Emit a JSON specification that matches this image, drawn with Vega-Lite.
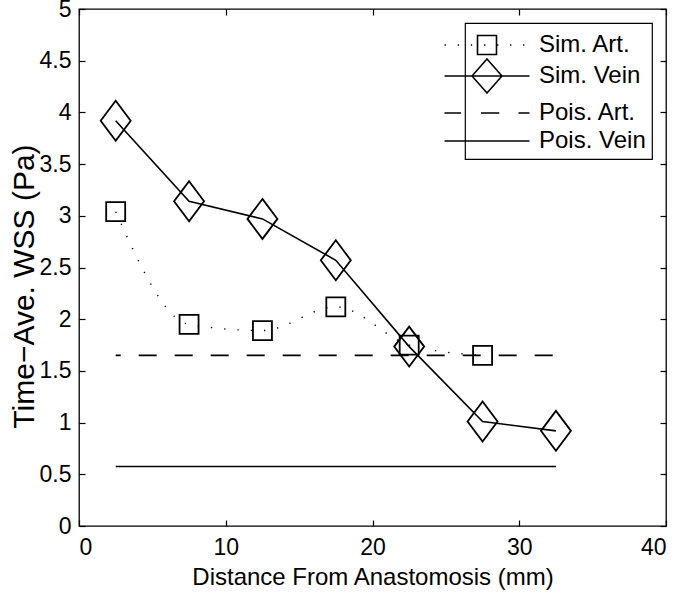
{
  "$schema": "https://vega.github.io/schema/vega-lite/v6.json",
  "width": 587,
  "height": 517,
  "autosize": {"type": "none"},
  "padding": {"left": 79, "top": 9, "right": 14, "bottom": 68},
  "background": "white",
  "config": {
    "font": "Liberation Sans",
    "view": {"stroke": "black", "strokeWidth": 1.3},
    "axis": {
      "domain": false,
      "grid": false,
      "ticks": true,
      "tickColor": "black",
      "tickSize": -6,
      "tickWidth": 1.2,
      "labelColor": "black",
      "labelFont": "Liberation Sans",
      "labelFontSize": 23,
      "titleColor": "black",
      "titleFont": "Liberation Sans",
      "titleFontSize": 24,
      "titleFontWeight": "normal"
    }
  },
  "data": {
    "values": [
      {"series": "Sim. Art.", "x": 2.5, "y": 3.04},
      {"series": "Sim. Art.", "x": 7.5, "y": 1.95},
      {"series": "Sim. Art.", "x": 12.5, "y": 1.89},
      {"series": "Sim. Art.", "x": 17.5, "y": 2.12},
      {"series": "Sim. Art.", "x": 22.5, "y": 1.75},
      {"series": "Sim. Art.", "x": 27.5, "y": 1.65},
      {"series": "Sim. Vein", "x": 2.5, "y": 3.92},
      {"series": "Sim. Vein", "x": 7.5, "y": 3.14},
      {"series": "Sim. Vein", "x": 12.5, "y": 2.97},
      {"series": "Sim. Vein", "x": 17.5, "y": 2.57},
      {"series": "Sim. Vein", "x": 22.5, "y": 1.735},
      {"series": "Sim. Vein", "x": 27.5, "y": 1.01},
      {"series": "Sim. Vein", "x": 32.5, "y": 0.92},
      {"series": "Pois. Art.", "x": 2.5, "y": 1.65},
      {"series": "Pois. Art.", "x": 32.5, "y": 1.65},
      {"series": "Pois. Vein", "x": 2.5, "y": 0.575},
      {"series": "Pois. Vein", "x": 32.5, "y": 0.575}
    ]
  },
  "encoding": {
    "x": {
      "field": "x", "type": "quantitative",
      "scale": {"domain": [0, 40], "nice": false, "zero": false},
      "axis": null
    },
    "y": {
      "field": "y", "type": "quantitative",
      "scale": {"domain": [0, 5], "nice": false, "zero": false},
      "axis": null
    }
  },
  "layer": [
    {
      "transform": [{"filter": "datum.series === 'Pois. Vein'"}],
      "mark": {"type": "line", "strokeWidth": 1.6},
      "encoding": {
        "x": {
          "field": "x", "type": "quantitative",
          "axis": {"orient": "bottom", "values": [0, 10, 20, 30, 40], "title": "Distance From Anastomosis (mm)", "labelPadding": 16, "titlePadding": 6}
        },
        "y": {
          "field": "y", "type": "quantitative",
          "axis": {"orient": "left", "values": [0, 0.5, 1, 1.5, 2, 2.5, 3, 3.5, 4, 4.5, 5], "format": "~g", "title": "Time−Ave. WSS (Pa)", "titleFontSize": 30, "titleY": 277, "labelPadding": 14, "titlePadding": 0}
        },
        "stroke": {
          "field": "series", "type": "nominal",
          "scale": {"domain": ["Sim. Art.", "Sim. Vein", "Pois. Art.", "Pois. Vein"], "range": ["black", "black", "black", "black"]},
          "legend": {
            "title": null,
            "orient": "top-right",
            "offset": 14,
            "padding": 6,
            "strokeColor": "black",
            "fillColor": "white",
            "gridAlign": "each",
            "rowPadding": -3,
            "labelFont": "Liberation Sans",
            "labelFontSize": 24,
            "labelColor": "black",
            "labelOffset": 36,
            "labelLimit": 300,
            "symbolSize": 900,
            "symbolStrokeWidth": 1.6,
            "symbolDash": [1, 0],
            "encode": {
              "legend": {"update": {"strokeWidth": {"value": 1.2}}},
              "symbols": {
                "update": {
                  "shape": {"signal": "datum.value === 'Sim. Art.' ? 'M-2.833,0h0.09M-1.953,0h0.09M-1.08,0h0.09M-0.2,0h0.09M0.667,0h0.09M1.533,0h0.09M2.4,0h0.09M-0.633,-0.633H0.633V0.633H-0.633Z' : datum.value === 'Sim. Vein' ? 'M-2.833,0H2.833M0,-1.133L1,0L0,1.133L-1,0Z' : datum.value === 'Pois. Art.' ? 'M-2.833,0H-1.727M-0.4,0H0.82M2.1,0H2.833' : 'M-2.833,0H2.833'"},
                  "fill": {"value": "transparent"},
                  "strokeWidth": {"value": 1.6},
                  "size": {"value": 900}
                }
              }
            }
          }
        }
      }
    },
    {
      "transform": [{"filter": "datum.series === 'Pois. Art.'"}],
      "mark": {"type": "line", "stroke": "black", "strokeWidth": 1.6, "strokeDash": [18, 18], "strokeDashOffset": 13}
    },
    {
      "transform": [{"filter": "datum.series === 'Sim. Art.'"}],
      "mark": {"type": "line", "stroke": "black", "strokeWidth": 1.4, "strokeDash": [1.3, 12], "interpolate": "monotone"}
    },
    {
      "transform": [{"filter": "datum.series === 'Sim. Vein'"}],
      "mark": {"type": "line", "stroke": "black", "strokeWidth": 1.6}
    },
    {
      "transform": [{"filter": "datum.series === 'Sim. Art.'"}],
      "mark": {"type": "point", "shape": "square", "size": 361, "filled": false, "stroke": "black", "strokeWidth": 1.8, "opacity": 1},
      "encoding": {
        "x": {"field": "x", "type": "quantitative", "axis": {"orient": "top", "values": [0, 10, 20, 30, 40], "labels": false, "title": null}},
        "y": {"field": "y", "type": "quantitative", "axis": {"orient": "right", "values": [0, 0.5, 1, 1.5, 2, 2.5, 3, 3.5, 4, 4.5, 5], "labels": false, "title": null}}
      }
    },
    {
      "transform": [{"filter": "datum.series === 'Sim. Vein'"}],
      "mark": {"type": "point", "shape": "M0,-1L0.75,0L0,1L-0.75,0Z", "size": 1600, "filled": false, "stroke": "black", "strokeWidth": 1.8, "opacity": 1}
    }
  ],
  "resolve": {"axis": {"x": "independent", "y": "independent"}}
}
